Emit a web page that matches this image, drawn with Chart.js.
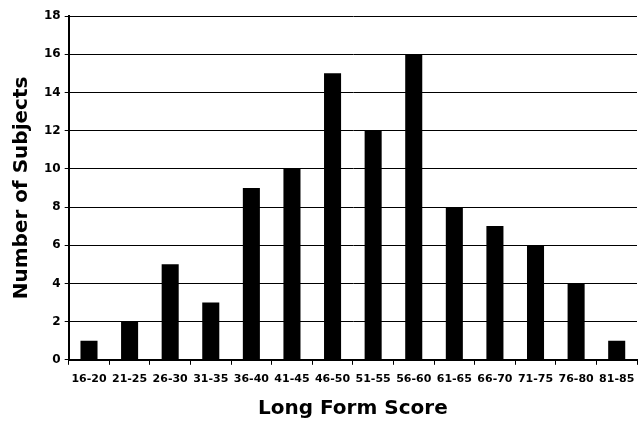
<!DOCTYPE html>
<html><head><meta charset="utf-8">
<script src="https://cdn.jsdelivr.net/npm/chart.js@4/dist/chart.umd.min.js"></script>
<style>html,body{margin:0;padding:0;background:#fff}#wrap{width:639px;height:421px}</style>
</head><body><div id="wrap"><canvas id="c"></canvas></div>
<script>
const categories = ["16-20","21-25","26-30","31-35","36-40","41-45","46-50","51-55","56-60","61-65","66-70","71-75","76-80","81-85"];
const subjects = [1,2,5,3,9,10,15,12,16,8,7,6,4,1];
const yTicks = [0,2,4,6,8,10,12,14,16,18];
const FONT = 'DejaVu Sans';

new Chart(document.getElementById('c'), {
  type: 'bar',
  data: { labels: categories, datasets: [{ data: subjects, backgroundColor: '#000', borderWidth: 0, barPercentage: 0.42, categoryPercentage: 1 }] },
  options: {
    responsive: true, maintainAspectRatio: false, animation: false,
    devicePixelRatio: 1,
    layout: { padding: { left: 10, right: 2, top: 16, bottom: 0 } },
    plugins: { legend: { display: false }, tooltip: { enabled: false } },
    scales: {
      x: {
        afterFit: s => { s.paddingRight = 0; s.paddingLeft = 0; },
        grid: { offset: true, drawOnChartArea: false, color: '#000', tickLength: 5, lineWidth: 1 },
        border: { color: '#000', width: 2 },
        ticks: { color: '#000', font: { family: FONT, weight: 'bold', size: 11 }, maxRotation: 0, autoSkip: false, padding: 8 },
        title: { display: true, text: 'Long Form Score', color: '#000', font: { family: FONT, weight: 'bold', size: 20 }, padding: { top: 3, bottom: 0 } }
      },
      y: {
        min: 0, max: 18,
        afterBuildTicks: a => { a.ticks = yTicks.map(v => ({ value: v })); },
        grid: { color: '#000', tickLength: 4, lineWidth: 1 },
        border: { color: '#000', width: 2 },
        ticks: { color: '#000', font: { family: FONT, weight: 'bold', size: 12 }, padding: 4 },
        title: { display: true, text: 'Number of Subjects', color: '#000', font: { family: FONT, weight: 'bold', size: 20 }, padding: { top: 0, bottom: 6 } }
      }
    }
  }
});
</script></body></html>
